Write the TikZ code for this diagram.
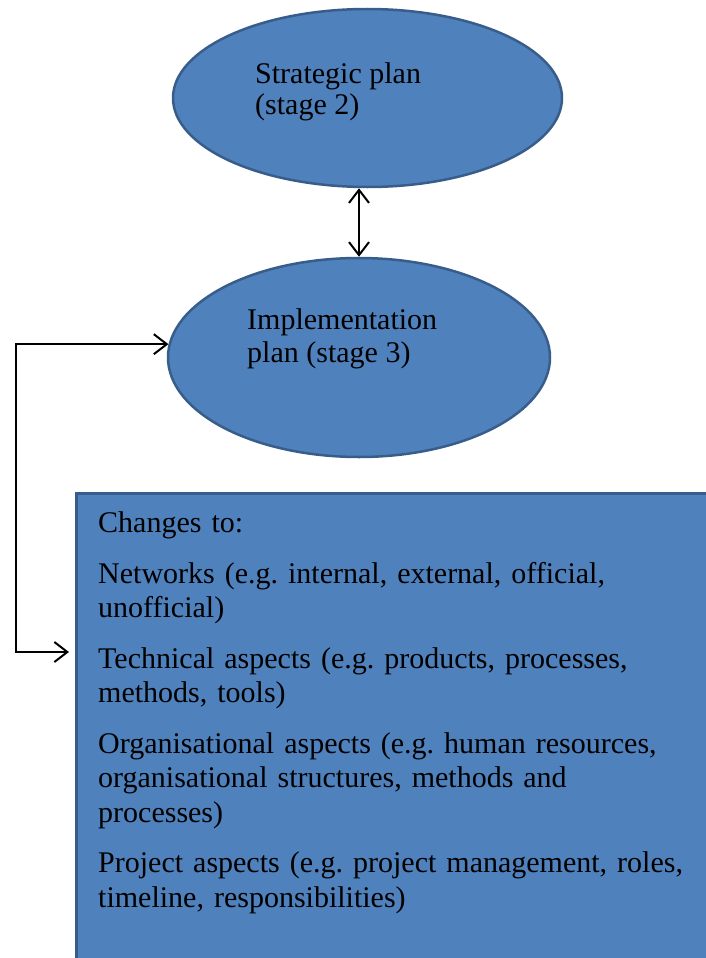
\documentclass[tikz,border=0pt]{standalone}
\usepackage{fontspec}
\setmainfont{Liberation Serif}
\usetikzlibrary{arrows.meta,shapes.geometric}
\definecolor{fillblue}{RGB}{79,129,189}
\definecolor{edgeblue}{RGB}{56,93,138}
\frenchspacing
\tikzset{
  blob/.style={ellipse, draw=edgeblue, fill=fillblue, line width=2.5pt, inner sep=0pt},
  panel/.style={rectangle, draw=edgeblue, fill=fillblue, line width=2.5pt, inner sep=0pt, anchor=north west},
  label/.style={align=left, inner sep=0pt, anchor=north west},
  conn/.style={line width=2pt, {Straight Barb[length=13pt,width=20pt,line width=2pt]}-{Straight Barb[length=13pt,width=20pt,line width=2pt]}}
}
\begin{document}
\begin{tikzpicture}[x=1pt,y=-1pt]
\useasboundingbox (0,0) rectangle (706,958);
\node[blob, minimum width=389pt, minimum height=178pt] (s) at (367.5,98) {};
\node[blob, minimum width=382pt, minimum height=199pt] (i) at (359,357.5) {};
\node[panel, minimum width=660pt, minimum height=480pt] (box) at (75,492) {};
\node[label, font=\fontsize{30}{31}\selectfont] (st) at (255,62) {Strategic plan\\(stage 2)};
\node[label, font=\fontsize{30}{33}\selectfont] (it) at (247,308.5) {Implementation\\plan (stage 3)};
\node[label, font=\fontsize{30}{34.5}\selectfont, text width=600pt] (bt) at (98,511.5) {Changes to:\\[16pt]
Networks (e.g. internal, external, official,\\unofficial)\\[16pt]
Technical aspects (e.g. products, processes,\\methods, tools)\\[16pt]
Organisational aspects (e.g. human resources,\\organisational structures, methods and\\processes)\\[16pt]
Project aspects (e.g. project management, roles,\\timeline, responsibilities)};
\coordinate (turn) at (16,500);
\coordinate (bx) at (box.west |- 0,652);
\draw[conn] (s.south -| i.north) -- (i.north);
\draw[conn, shorten >=6pt] (i.176.4) -| (turn) |- (bx);
\end{tikzpicture}
\end{document}
